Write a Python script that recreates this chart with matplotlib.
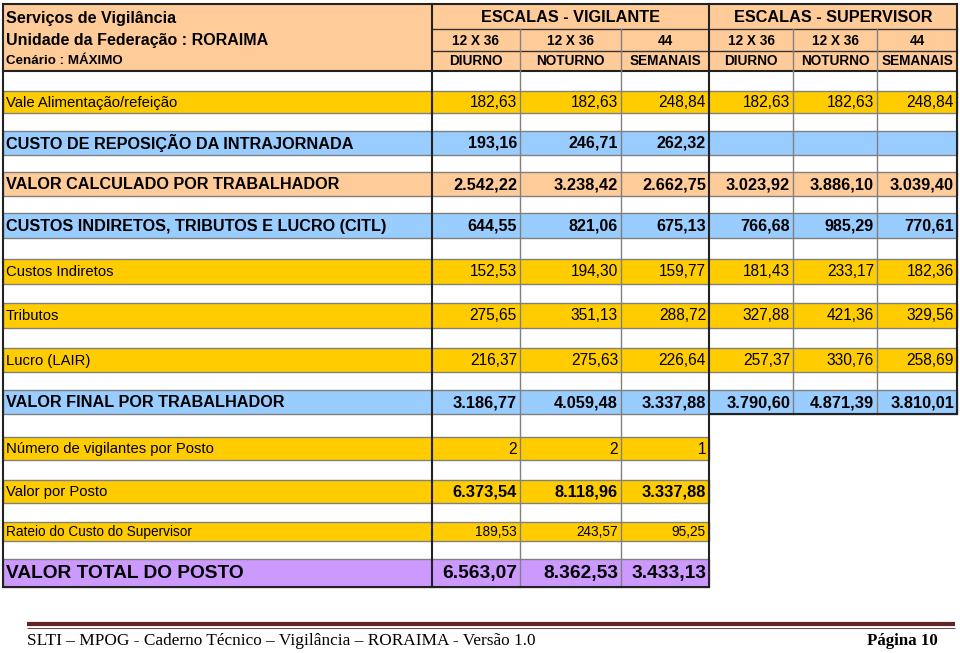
import matplotlib.pyplot as plt
from matplotlib.patches import Rectangle

# --- table contents ---
title_lines = ['Serviços de Vigilância', 'Unidade da Federação : RORAIMA', 'Cenário : MÁXIMO']
groups = ['ESCALAS - VIGILANTE', 'ESCALAS - SUPERVISOR']
escalas = ['12 X 36', '12 X 36', '44', '12 X 36', '12 X 36', '44']
turnos = ['DIURNO', 'NOTURNO', 'SEMANAIS', 'DIURNO', 'NOTURNO', 'SEMANAIS']

row_labels = ['Vale Alimentação/refeição',
              'CUSTO DE REPOSIÇÃO DA INTRAJORNADA',
              'VALOR CALCULADO POR TRABALHADOR',
              'CUSTOS INDIRETOS, TRIBUTOS E LUCRO (CITL)',
              'Custos Indiretos',
              'Tributos',
              'Lucro (LAIR)',
              'VALOR FINAL POR TRABALHADOR',
              'Número de vigilantes por Posto',
              'Valor por Posto',
              'Rateio do Custo do Supervisor',
              'VALOR TOTAL DO POSTO']

vale_alimentacao = [182.63, 182.63, 248.84, 182.63, 182.63, 248.84]
custo_intrajornada = [193.16, 246.71, 262.32, None, None, None]
valor_calculado = [2542.22, 3238.42, 2662.75, 3023.92, 3886.10, 3039.40]
citl = [644.55, 821.06, 675.13, 766.68, 985.29, 770.61]
custos_indiretos = [152.53, 194.30, 159.77, 181.43, 233.17, 182.36]
tributos = [275.65, 351.13, 288.72, 327.88, 421.36, 329.56]
lucro = [216.37, 275.63, 226.64, 257.37, 330.76, 258.69]
valor_final = [3186.77, 4059.48, 3337.88, 3790.60, 4871.39, 3810.01]
vigilantes_posto = [2, 2, 1]
valor_posto = [6373.54, 8118.96, 3337.88]
rateio_supervisor = [189.53, 243.57, 95.25]
valor_total = [6563.07, 8362.53, 3433.13]

footer_left = 'SLTI – MPOG - Caderno Técnico – Vigilância – RORAIMA - Versão 1.0'
footer_right = 'Página 10'


def fmt(v):
    if v is None:
        return ''
    if isinstance(v, int):
        return str(v)
    s = f'{v:,.2f}'
    return s.replace(',', 'X').replace('.', ',').replace('X', '.')


def main():
    plt.rcParams['font.family'] = ['Liberation Sans', 'DejaVu Sans']
    fig = plt.figure(figsize=(9.6, 6.53), dpi=100)
    ax = fig.add_axes([0, 0, 1, 1])
    ax.set_xlim(0, 960)
    ax.set_ylim(653, 0)
    ax.axis('off')

    # column edges (pixels)
    cols = [3, 432, 520, 621, 709, 793, 877, 957]
    peach, yellow, blue, purple = '#FFCC99', '#FFCC00', '#99CCFF', '#CC99FF'
    grid = '#808080'

    # --- header block ---
    ax.add_patch(Rectangle((cols[0], 4), cols[-1] - cols[0], 67, facecolor=peach,
                           edgecolor='none', zorder=1))
    ax.text(6, 18, title_lines[0], fontsize=11.6, weight='bold', va='center')
    ax.text(6, 41, title_lines[1], fontsize=11.5, weight='bold', va='center')
    ax.text(6, 61, title_lines[2], fontsize=9.6, weight='bold', va='center')
    ax.text((cols[1] + cols[4]) / 2, 18, groups[0], fontsize=11.7, weight='bold',
            ha='center', va='center')
    ax.text((cols[4] + cols[7]) / 2, 18, groups[1], fontsize=11.7, weight='bold',
            ha='center', va='center')
    for i in range(6):
        xc = (cols[i + 1] + cols[i + 2]) / 2
        ax.text(xc, 41, escalas[i], fontsize=9.8, weight='bold', ha='center', va='center')
        ax.text(xc, 61, turnos[i], fontsize=9.8, weight='bold', ha='center', va='center')
    ax.plot([cols[1], cols[7]], [29, 29], color='#333333', lw=1, zorder=3)
    ax.plot([cols[1], cols[7]], [51, 51], color='#333333', lw=1, zorder=3)
    ax.plot([cols[0], cols[7]], [71, 71], color='#222222', lw=1.5, zorder=3)

    # --- body rows: (top, bottom, fill, label size, label bold, value size, value bold)
    row_style = [
        (91, 113, yellow, 10.7, False, 11.2, False),
        (131, 155, blue, 11.7, True, 11.6, True),
        (172, 196, peach, 11.7, True, 11.8, True),
        (213, 238, blue, 11.7, True, 11.6, True),
        (259, 284, yellow, 10.7, False, 11.2, False),
        (303, 328, yellow, 10.7, False, 11.2, False),
        (348, 372, yellow, 10.7, False, 11.2, False),
        (390, 414, blue, 11.7, True, 11.8, True),
        (437, 460, yellow, 10.7, False, 11.2, False),
        (480, 503, yellow, 10.7, False, 11.8, True),
        (522, 541, yellow, 9.8, False, 9.8, False),
        (559, 587, purple, 13.8, True, 13.8, True),
    ]
    row_values = [vale_alimentacao, custo_intrajornada, valor_calculado, citl,
                  custos_indiretos, tributos, lucro, valor_final,
                  vigilantes_posto, valor_posto, rateio_supervisor, valor_total]

    for label, vals, (top, bot, fill, lsize, lbold, vsize, vbold) in zip(row_labels, row_values, row_style):
        right = cols[len(vals) + 1]
        ax.add_patch(Rectangle((cols[0], top), right - cols[0], bot - top, facecolor=fill,
                               edgecolor=grid, lw=1, zorder=1))
        yc = (top + bot) / 2 + 0.5
        ax.text(6, yc, label, fontsize=lsize, weight='bold' if lbold else 'normal',
                va='center', zorder=4)
        for i, v in enumerate(vals):
            ax.text(cols[i + 2] - 3, yc, fmt(v), fontsize=vsize,
                    weight='bold' if vbold else 'normal', ha='right', va='center', zorder=4)

    # --- grid lines ---
    ax.plot([cols[0], cols[0]], [4, 587], color='#222222', lw=1.5, zorder=3)
    ax.plot([cols[1], cols[1]], [4, 587], color='#222222', lw=1.5, zorder=3)
    ax.plot([cols[4], cols[4]], [4, 587], color='#222222', lw=1.5, zorder=3)
    ax.plot([cols[7], cols[7]], [4, 414], color='#222222', lw=1.5, zorder=3)
    for c in (cols[2], cols[3]):
        ax.plot([c, c], [29, 587], color=grid, lw=1, zorder=3)
    for c in (cols[5], cols[6]):
        ax.plot([c, c], [29, 414], color=grid, lw=1, zorder=3)
    ax.plot([cols[0], cols[7]], [4, 4], color='#222222', lw=1.5, zorder=3)
    ax.plot([cols[4], cols[7]], [414, 414], color='#222222', lw=1.5, zorder=3)
    ax.plot([cols[0], cols[4]], [587, 587], color='#222222', lw=1.5, zorder=3)

    # --- page footer ---
    ax.plot([27, 955], [624, 624], color='#622423', lw=3, solid_capstyle='butt')
    ax.plot([27, 955], [627.5, 627.5], color='#622423', lw=0.6, solid_capstyle='butt')
    ax.text(27, 641, footer_left, fontsize=12.4, family='Liberation Serif', va='center')
    ax.text(938, 641, footer_right, fontsize=12.2, family='Liberation Serif',
            weight='bold', ha='right', va='center')

    fig.savefig('out.png', dpi=100)


if __name__ == '__main__':
    main()
